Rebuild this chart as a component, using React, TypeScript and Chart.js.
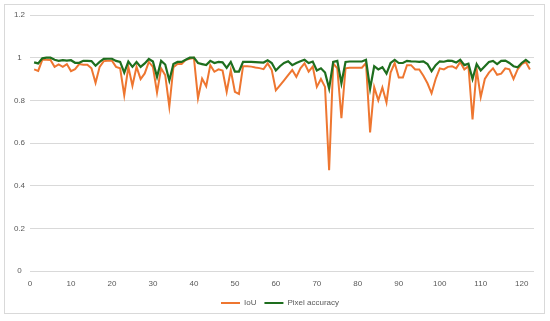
import React, { useEffect, useRef } from "react";
import { Chart, registerables } from "chart.js";

Chart.register(...registerables);

// Sample numbers (x positions) run 1..122
const iou = [
  0.945, 0.938, 0.99, 0.99, 0.989, 0.957, 0.968, 0.957, 0.97, 0.937,
  0.946, 0.97, 0.967, 0.967, 0.95, 0.882, 0.957, 0.984, 0.986, 0.986,
  0.957, 0.95, 0.824, 0.957, 0.868, 0.957, 0.9, 0.926, 0.98, 0.957,
  0.836, 0.95, 0.918, 0.77, 0.955, 0.97, 0.97, 0.99, 0.995, 1.0,
  0.81, 0.902, 0.866, 0.965, 0.934, 0.945, 0.94, 0.84, 0.942, 0.84,
  0.83, 0.96, 0.96, 0.958, 0.954, 0.951, 0.946, 0.973, 0.942, 0.847,
  0.87, 0.894, 0.918, 0.942, 0.91, 0.95, 0.973, 0.934, 0.958, 0.863,
  0.9, 0.863, 0.472, 0.973, 0.95, 0.716, 0.95, 0.953, 0.953, 0.953,
  0.953, 0.975, 0.65, 0.862, 0.8, 0.86, 0.79, 0.93, 0.975, 0.907,
  0.907, 0.965, 0.965, 0.945, 0.945, 0.915, 0.88, 0.833, 0.9, 0.95,
  0.945, 0.957, 0.96, 0.95, 0.98, 0.945, 0.96, 0.71, 0.945, 0.815,
  0.9, 0.93, 0.95, 0.92, 0.925, 0.95, 0.945, 0.9, 0.945, 0.97,
  0.98, 0.945,
];

const pixelAccuracy = [
  0.978, 0.973, 0.997, 1.0, 1.0, 0.99, 0.985, 0.988, 0.986, 0.988,
  0.976, 0.976, 0.985, 0.985, 0.984, 0.962, 0.98, 0.994, 0.995, 0.995,
  0.985, 0.98, 0.93, 0.982, 0.957, 0.98, 0.957, 0.973, 0.994, 0.982,
  0.91, 0.985, 0.968, 0.893, 0.97, 0.98, 0.98, 0.99, 1.0, 1.0,
  0.975, 0.97, 0.965, 0.985, 0.975, 0.98, 0.978, 0.952, 0.98, 0.935,
  0.935, 0.98, 0.98, 0.98, 0.979, 0.978, 0.977, 0.988, 0.975, 0.94,
  0.96, 0.975, 0.983, 0.965, 0.975, 0.983, 0.99, 0.975, 0.982, 0.94,
  0.95, 0.93, 0.855, 0.98, 0.985, 0.88, 0.98, 0.982, 0.982, 0.982,
  0.982, 0.99, 0.855, 0.96, 0.945, 0.955, 0.925, 0.975, 0.99, 0.975,
  0.975, 0.985, 0.983, 0.982, 0.98, 0.983, 0.97, 0.937, 0.965, 0.983,
  0.981, 0.986, 0.985, 0.977, 0.99, 0.965, 0.972, 0.9, 0.97, 0.94,
  0.96, 0.98, 0.985, 0.97, 0.985, 0.986, 0.975, 0.96, 0.955, 0.975,
  0.99, 0.975,
];

const seriesNames = ["IoU", "Pixel accuracy"];
const seriesColors = ["#EE7630", "#1E6E1E"];

const xTickLabels = [0, 10, 20, 30, 40, 50, 60, 70, 80, 90, 100, 110, 120];
const X_MIN = 0;
const X_MAX = 123;
const Y_MIN = 0;
const Y_MAX = 1.2;
const Y_STEP = 0.2;

const legendShift = {
  id: "legendShift",
  afterLayout(chart: any) {
    const lg = chart.legend;
    if (lg) {
      lg.left += 13;
      lg.right += 13;
    }
  },
};

export default function App() {
  const canvasRef = useRef<HTMLCanvasElement | null>(null);

  useEffect(() => {
    document.body.style.margin = "0";
    const canvas = canvasRef.current;
    if (!canvas) return;
    const toPoints = (arr: number[]) => arr.map((v, i) => ({ x: i + 1, y: v }));
    const font = { family: "'Liberation Sans', Arial, sans-serif", size: 8 };
    const chart = new Chart(canvas, {
      type: "line",
      data: {
        datasets: [
          {
            label: seriesNames[0],
            data: toPoints(iou),
            borderColor: seriesColors[0],
            backgroundColor: seriesColors[0],
            borderWidth: 2,
            pointRadius: 0,
            tension: 0,
            order: 2,
          },
          {
            label: seriesNames[1],
            data: toPoints(pixelAccuracy),
            borderColor: seriesColors[1],
            backgroundColor: seriesColors[1],
            borderWidth: 2.2,
            pointRadius: 0,
            tension: 0,
            order: 1,
          },
        ],
      },
      plugins: [legendShift],
      options: {
        animation: false,
        responsive: false,
        maintainAspectRatio: false,
        layout: { padding: { top: 15, left: 0, right: 16, bottom: 4 } },
        plugins: {
          tooltip: { enabled: false },
          legend: {
            position: "bottom",
            labels: {
              font,
              color: "#595959",
              boxWidth: 19,
              boxHeight: 2,
              padding: 8,
              sort: (a: any, b: any) => a.datasetIndex - b.datasetIndex,
              generateLabels: (c: any) =>
                Chart.defaults.plugins.legend.labels
                  .generateLabels(c)
                  .map((l: any) => ({ ...l, lineWidth: 0 })),
            },
          },
        },
        scales: {
          x: {
            type: "linear",
            min: X_MIN,
            max: X_MAX,
            grid: { display: false, drawTicks: false },
            border: { display: false },
            afterBuildTicks: (s: any) => {
              s.ticks = xTickLabels.map((v) => ({ value: v }));
            },
            ticks: {
              font,
              color: "#595959",
              padding: 8,
              maxRotation: 0,
              autoSkip: false,
            },
            afterFit: (s: any) => {
              s.height = 20;
            },
          },
          y: {
            min: Y_MIN,
            max: Y_MAX,
            grid: { color: "#d9d9d9", drawTicks: false },
            border: { display: false },
            ticks: {
              stepSize: Y_STEP,
              font,
              color: "#595959",
              padding: 5,
              crossAlign: "center",
              callback: (v: any) => String(Number(Number(v).toFixed(1))),
            },
            afterFit: (s: any) => {
              s.width = 30;
            },
          },
        },
      },
    });
    return () => chart.destroy();
  }, []);

  return (
    <div style={{ position: "relative", width: 550, height: 321, background: "#fff" }}>
      <div
        style={{
          position: "absolute",
          left: 4,
          top: 4,
          width: 539,
          height: 308,
          border: "1px solid #d9d9d9",
        }}
      />
      <canvas
        ref={canvasRef}
        width={550}
        height={321}
        style={{ position: "absolute", left: 0, top: 0, width: 550, height: 321 }}
      />
    </div>
  );
}
